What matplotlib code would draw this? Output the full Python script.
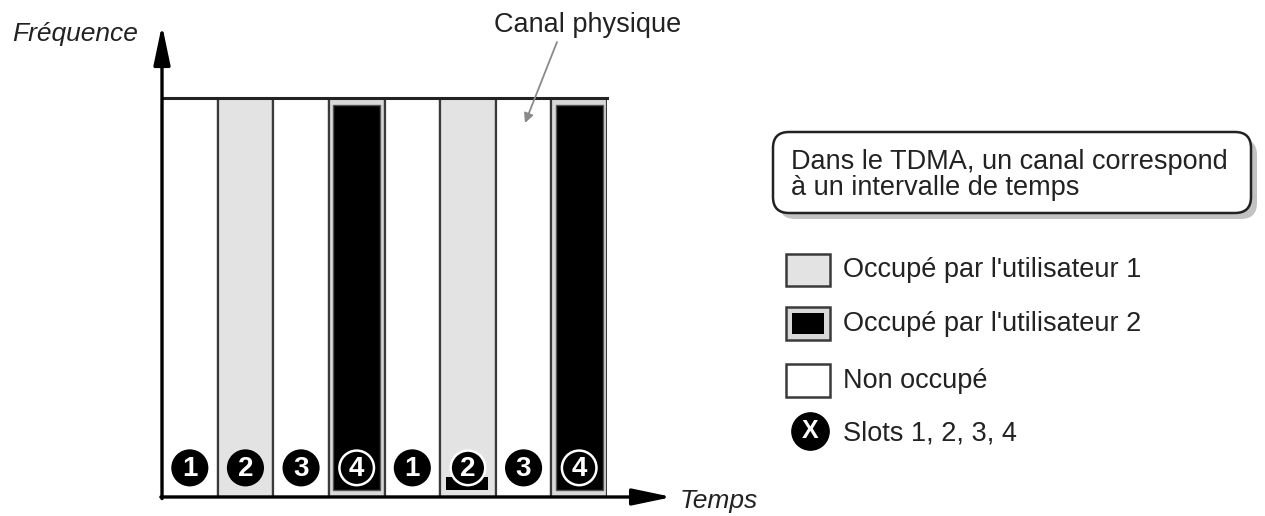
import numpy as np
import matplotlib.pyplot as plt
from matplotlib.patches import Rectangle, FancyBboxPatch

plt.rcParams['font.family'] = ['Liberation Sans', 'DejaVu Sans']

# slot data: which slot number and who occupies it
slot_numbers = [1, 2, 3, 4, 1, 2, 3, 4]
occupancy = ['libre', 'user1', 'libre', 'user2', 'libre', 'user1', 'libre', 'user2']
legend_labels = ["Occupé par l'utilisateur 1", "Occupé par l'utilisateur 2", "Non occupé", "Slots 1, 2, 3, 4"]
note_text = "Dans le TDMA, un canal correspond\nà un intervalle de temps"

gray = '#e3e3e3'
edge = '#3a3a3a'
txt = '#222222'

fig = plt.figure(figsize=(12.65, 5.16), dpi=100)
fig.patch.set_facecolor('white')

# main diagram: x in slot units, y from 0 to 1
ax = fig.add_axes([162 / 1265, 19 / 516, 445 / 1265, 399 / 516])
ax.set_xlim(0, len(slot_numbers))
ax.set_ylim(0, 1)
ax.axis('off')

for i, (num, occ) in enumerate(zip(slot_numbers, occupancy)):
    if occ == 'user1':
        ax.add_patch(Rectangle((i, 0), 1, 1, facecolor=gray, edgecolor=edge, lw=1.6, zorder=1))
    elif occ == 'user2':
        ax.add_patch(Rectangle((i, 0), 1, 1, facecolor='#d9d9d9', edgecolor=edge, lw=1.6, zorder=1))
        ax.add_patch(Rectangle((i + 0.08, 0.017), 0.84, 0.966, facecolor='black',
                               edgecolor='#555555', lw=1.0, zorder=2))
    else:
        ax.add_patch(Rectangle((i, 0), 1, 1, facecolor='white', edgecolor=edge, lw=1.6, zorder=1))

# small black patch under the 2nd "2" circle (as in the source image)
ax.add_patch(Rectangle((5 + 0.1, 0.017), 0.76, 0.033, facecolor='black', edgecolor='none', zorder=2))

# top border a bit heavier
ax.plot([0, len(slot_numbers)], [1, 1], color='#222222', lw=2.2, zorder=3, clip_on=False)

# slot number circles
ring = ['white' if (occ == 'user2' or (occ == 'user1' and i >= 4)) else 'black'
        for i, occ in enumerate(occupancy)]
xs = np.arange(len(slot_numbers)) + 0.5
ax.scatter(xs, np.full(len(xs), 0.073), s=620, c='black', edgecolors=ring,
           linewidths=1.8, zorder=4, clip_on=False)
for x, num in zip(xs, slot_numbers):
    ax.text(x, 0.071, str(num), color='white', fontsize=20, fontweight='bold',
            ha='center', va='center', zorder=5)

# axes with arrows
head = '-|>,head_length=1.0,head_width=0.21'
ax.annotate('', xy=(0, 1.183), xytext=(0, -0.004),
            arrowprops=dict(arrowstyle=head, color='black', lw=2.4, mutation_scale=24,
                            shrinkA=0, shrinkB=0), annotation_clip=False)
ax.annotate('', xy=(9.17, 0), xytext=(-0.02, 0),
            arrowprops=dict(arrowstyle=head, color='black', lw=2.4, mutation_scale=24,
                            shrinkA=0, shrinkB=0), annotation_clip=False)

# overlay in pixel coordinates for labels and legend
ov = fig.add_axes([0, 0, 1, 1])
ov.set_xlim(0, 1265)
ov.set_ylim(516, 0)
ov.axis('off')
ov.patch.set_alpha(0)

ov.text(12, 34, 'Fréquence', fontsize=19, style='italic', ha='left', va='center', color=txt)
ov.text(680, 501, 'Temps', fontsize=19, style='italic', ha='left', va='center', color=txt)
ov.text(588, 25, 'Canal physique', fontsize=19.5, ha='center', va='center', color=txt)
ov.annotate('', xy=(525, 123), xytext=(557, 42),
            arrowprops=dict(arrowstyle='-|>', color='#8a8a8a', lw=1.3, mutation_scale=14,
                            shrinkA=0, shrinkB=0))

# note box with shadow
ov.add_patch(FancyBboxPatch((779, 139), 478, 80, boxstyle='round,pad=0,rounding_size=16',
                            facecolor='#9a9a9a', edgecolor='none', alpha=0.6))
ov.add_patch(FancyBboxPatch((773, 132), 478, 81, boxstyle='round,pad=0,rounding_size=16',
                            facecolor='white', edgecolor='#222222', lw=1.8))
ov.text(791, 175, note_text, fontsize=19.5, ha='left', va='center', color=txt,
        linespacing=1.0)

# legend
ys = [270, 324, 381, 433]
ov.add_patch(Rectangle((786, 254), 44, 32, facecolor=gray, edgecolor=edge, lw=1.8))
ov.add_patch(Rectangle((786, 307), 44, 33, facecolor='#d9d9d9', edgecolor=edge, lw=1.8))
ov.add_patch(Rectangle((792, 313), 32, 21, facecolor='black', edgecolor='none'))
ov.add_patch(Rectangle((786, 364), 44, 33, facecolor='white', edgecolor=edge, lw=1.8))
ov.scatter([810], [431], s=720, c='black', zorder=4)
ov.text(810, 431, 'X', color='white', fontsize=18, fontweight='bold', ha='center', va='center', zorder=5)
for y, lab in zip(ys, legend_labels):
    ov.text(843, y, lab, fontsize=19.5, ha='left', va='center', color=txt)

fig.savefig('out.png', dpi=100, facecolor='white')
